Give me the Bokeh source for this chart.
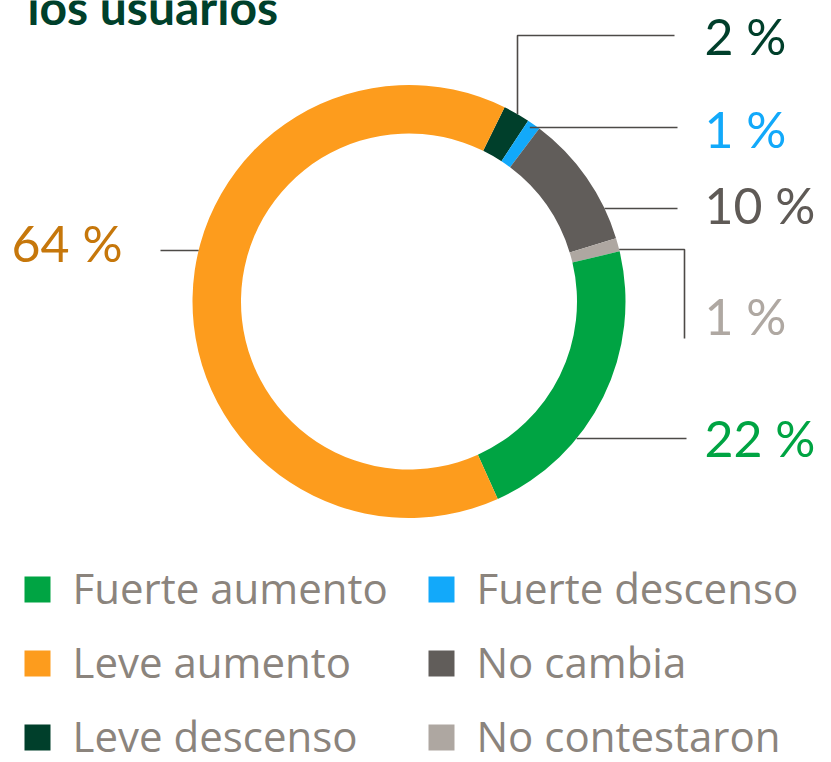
import numpy as np
from bokeh.plotting import figure
from bokeh.models import Range1d
from bokeh.core.properties import value
from bokeh.embed import file_html
from bokeh.resources import INLINE

# ---- data ----
categories = ["Leve descenso", "Fuerte descenso", "No cambia", "No contestaron", "Fuerte aumento", "Leve aumento"]
values = [2, 1, 10, 1, 22, 64]
colors = ["#003f2b", "#12a9fa", "#615d5a", "#aea7a1", "#00a443", "#fd9c1d"]
label_colors = ["#003f2b", "#12a9fa", "#5f5a56", "#afa8a2", "#00a443", "#c6770b"]
labels = ["2 %", "1 %", "10 %", "1 %", "22 %", "64 %"]

legend_order = ["Fuerte aumento", "Fuerte descenso", "Leve aumento", "No cambia", "Leve descenso", "No contestaron"]
title_text = "los usuarios"

W, H = 831, 762
def Y(py):
    return H - py

p = figure(width=W, height=H, output_backend="svg", toolbar_location=None,
           x_range=Range1d(0, W), y_range=Range1d(0, H), min_border=0)
p.axis.visible = False
p.grid.visible = False
p.outline_line_color = None
p.background_fill_color = "white"
p.border_fill_color = "white"

# ---- donut ----
cx, cy = 408.5, 301.0
R_out, R_in = 216.5, 168.0
start_deg = 63.8
vals = np.array(values, dtype=float)
frac = vals / vals.sum()
cum = np.concatenate([[0], np.cumsum(frac)])
starts = np.radians(start_deg - 360 * cum[:-1])
ends = np.radians(start_deg - 360 * cum[1:])
p.annular_wedge(x=cx, y=Y(cy), inner_radius=R_in, outer_radius=R_out,
                start_angle=ends, end_angle=starts, fill_color=colors,
                line_color=None)

# ---- leader lines ----
lc = "#4d4a47"
lw = 1.6
def circ_x(py, side=1):
    return cx + side * np.sqrt(R_out**2 - (py - cy)**2)
def circ_y(px):
    return cy - np.sqrt(R_out**2 - (px - cx)**2)

# 2 %
p.line([517, 517, 674], [Y(circ_y(517)), Y(35), Y(35)], line_color=lc, line_width=lw)
# 1 % blue
p.line([circ_x(127) - 8, 677], [Y(127), Y(127)], line_color=lc, line_width=lw)
# 10 %
p.line([circ_x(208), 677], [Y(208), Y(208)], line_color=lc, line_width=lw)
# 1 % grey
p.line([circ_x(249), 684, 684], [Y(249), Y(249), Y(338)], line_color=lc, line_width=lw)
# 22 %
p.line([circ_x(438), 686], [Y(438), Y(438)], line_color=lc, line_width=lw)
# 64 %
p.line([160, circ_x(250, -1)], [Y(250), Y(250)], line_color=lc, line_width=lw)

# ---- value labels ----
lab_x = [704, 704, 704, 704, 704, 122]
lab_y = [35, 128, 204, 315, 437, 242]
lab_align = ["left"] * 5 + ["right"]
p.text(x=lab_x, y=[Y(v) for v in lab_y], text=labels, text_color=label_colors,
       text_font=value("Lato"), text_font_size="50px", text_align=lab_align,
       text_baseline="middle")

# ---- title (partially visible, cut by the top edge) ----
p.text(x=[27], y=[Y(6)], text=[title_text], text_color="#00402b",
       text_font=value("Lato"), text_font_style="bold", text_font_size="48px",
       text_baseline="alphabetic", text_align="left")

# ---- legend ----
col_of = {categories[i]: colors[i] for i in range(len(categories))}
leg_x = []
leg_y = []
for i, name in enumerate(legend_order):
    c = i % 2
    r = i // 2
    leg_x.append([24, 428][c])
    leg_y.append(587 + 74 * r)
p.rect(x=[x + 13 for x in leg_x], y=[Y(v + 2) for v in leg_y], width=26, height=26,
       fill_color=[col_of[n] for n in legend_order], line_color=None)
p.text(x=[x + 48 for x in leg_x], y=[Y(v) for v in leg_y], text=legend_order,
       text_color="#8b847d", text_font=value("Open Sans"), text_font_size="42px",
       text_baseline="middle", text_align="left")

open("out.html", "w").write(file_html(p, INLINE))
